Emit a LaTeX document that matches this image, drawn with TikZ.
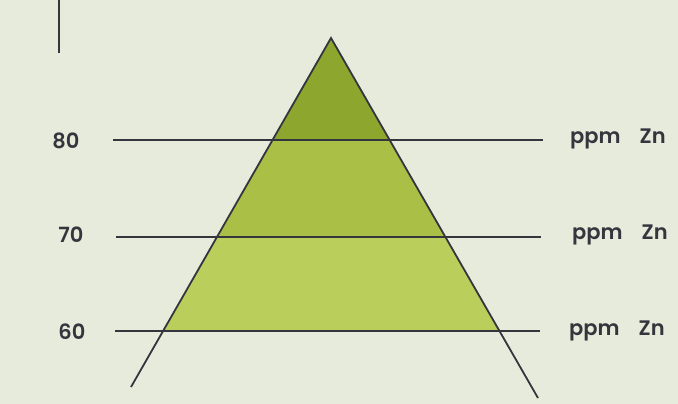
\documentclass[tikz,border=0pt]{standalone}
\usepackage{fontspec}
\newfontfamily\lblfont{Poppins}[UprightFont={* SemiBold}]
\definecolor{bg}{HTML}{E7EBDC}
\definecolor{ink}{HTML}{33363D}
\definecolor{gtop}{HTML}{8DA62E}
\definecolor{gmid}{HTML}{AABF45}
\definecolor{glow}{HTML}{BACE5C}
\tikzset{
  rule/.style={draw=ink, line width=1.8pt},
  lbl/.style={text=ink, font=\lblfont\fontsize{21}{24}\selectfont, inner sep=0pt}
}
\begin{document}
\begin{tikzpicture}[x=1pt,y=-1pt]
\fill[bg] (0,0) rectangle (678,404);
\useasboundingbox (0,0) rectangle (678,404);
% key points
\coordinate (A) at (331,38);
\coordinate (L) at (131,387);
\coordinate (R) at (538,398);
\coordinate (L60) at (163.6,331);
\coordinate (R60) at (499.5,331);
% fills
\begin{scope}
\clip (A) -- (L60) -- (R60) -- cycle;
\fill[glow] (0,237) rectangle (678,331);
\fill[gmid] (0,140) rectangle (678,237);
\fill[gtop] (0,0) rectangle (678,140);
\end{scope}
% horizontal level lines
\coordinate (a80) at (113,140);
\coordinate (b80) at (543,140);
\coordinate (a70) at (116,237);
\coordinate (b70) at (541,237);
\coordinate (a60) at (115,331);
\coordinate (b60) at (540,331);
\draw[rule] (a80) -- (b80);
\draw[rule] (a70) -- (b70);
\draw[rule] (a60) -- (b60);
% triangle sides
\draw[rule, line join=miter] (L) -- (A) -- (R);
% top-left mark
\coordinate (m1) at (59,0);
\coordinate (m2) at (59,53);
\draw[draw=ink, line width=1.5pt] (m1) -- (m2);
% labels
\node[lbl] (t80) at (66,141) {80};
\node[lbl] (t70) at (71,235) {70};
\node[lbl] (t60) at (72,331.5) {60};
\node[lbl, anchor=west] (p80) at (570,139) {ppm\hspace{19pt}Zn};
\node[lbl, anchor=west] (p70) at (572,235) {ppm\hspace{19pt}Zn};
\node[lbl, anchor=west] (p60) at (569,331) {ppm\hspace{19pt}Zn};
\end{tikzpicture}
\end{document}
